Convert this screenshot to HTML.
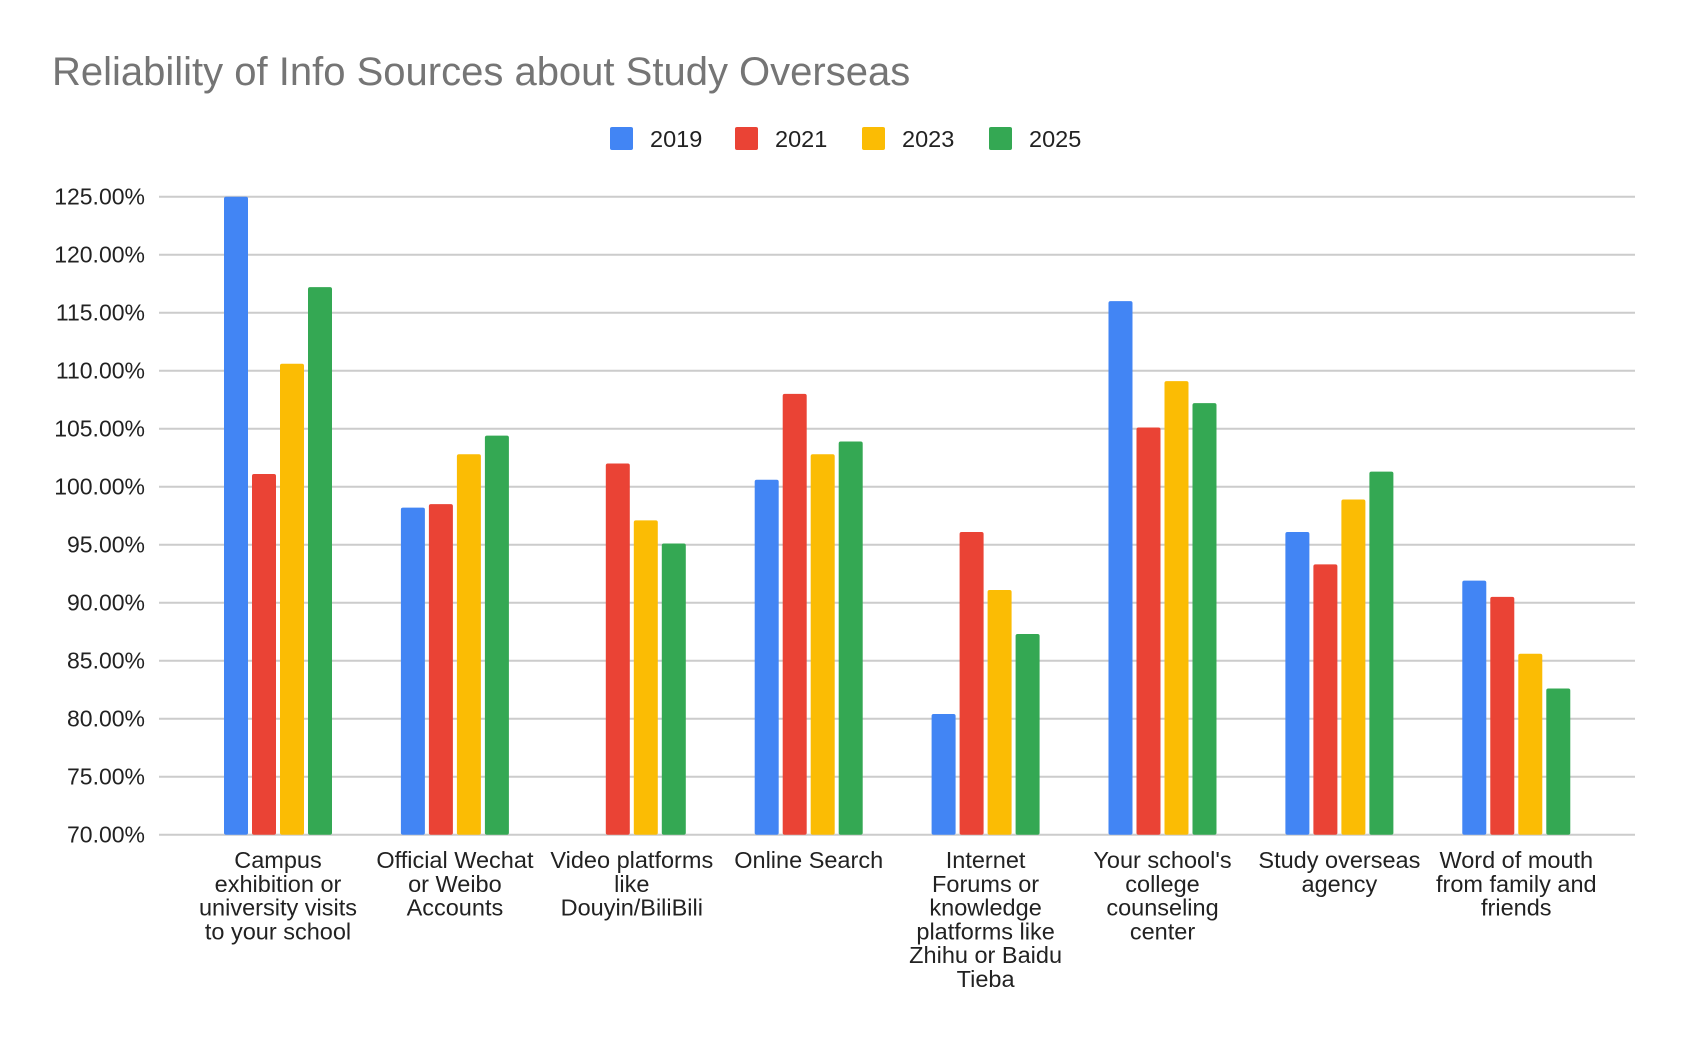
<!DOCTYPE html>
<html><head><meta charset="utf-8"><style>
body{margin:0;background:#fff;}
svg{display:block;font-family:"Liberation Sans",Arial,sans-serif;}
</style></head><body>
<svg id="chart" width="1688" height="1044" viewBox="0 0 1688 1044">
<text x="52" y="85" font-size="40" fill="#757575">Reliability of Info Sources about Study Overseas</text>
<g id="legend"></g>
<g id="grid"></g>
<g id="yticks"></g>
<g id="bars"></g>
<g id="xlabels"></g>
</svg>
<script>
const categories=[
["Campus","exhibition or","university visits","to your school"],
["Official Wechat","or Weibo","Accounts"],
["Video platforms","like","Douyin/BiliBili"],
["Online Search"],
["Internet","Forums or","knowledge","platforms like","Zhihu or Baidu","Tieba"],
["Your school's","college","counseling","center"],
["Study overseas","agency"],
["Word of mouth","from family and","friends"]];
const seriesNames=["2019","2021","2023","2025"];
const s2019=[125,98.2,null,100.6,80.4,116,96.1,91.9];
const s2021=[101.1,98.5,102,108,96.1,105.1,93.3,90.5];
const s2023=[110.6,102.8,97.1,102.8,91.1,109.1,98.9,85.6];
const s2025=[117.2,104.4,95.1,103.9,87.3,107.2,101.3,82.6];
const yTicks=[70,75,80,85,90,95,100,105,110,115,120,125];
const colors=["#4285f4","#ea4335","#fbbc04","#34a853"];
const NS="http://www.w3.org/2000/svg";
const X0=159,X1=1635,Y0=834.7,Y1=196.7,vmin=70,vmax=125;
const y=v=>Y0-(v-vmin)/(vmax-vmin)*(Y0-Y1);
const band=(X1-X0)/categories.length*0.9588;
const cx=i=>X0+119+i*band;
function mk(t,a,p){const e=document.createElementNS(NS,t);for(const k in a)e.setAttribute(k,a[k]);p.appendChild(e);return e;}
const grid=document.getElementById('grid'),yt=document.getElementById('yticks');
yTicks.forEach(v=>{
 const l=mk('line',{x1:X0,x2:X1,y1:y(v),y2:y(v),stroke:'#cccccc','stroke-width':2},grid);
 
 
 const t=mk('text',{x:145,y:y(v)+8,'font-size':23,'text-anchor':'end',fill:'#222'},yt);
 t.textContent=v.toFixed(2)+'%';
 
 
});
const series=[s2019,s2021,s2023,s2025];
const bars=document.getElementById('bars');
const bw=24,gap=4;
categories.forEach((c,i)=>{
 series.forEach((s,j)=>{
  const v=s[i];if(v==null)return;
  const x=cx(i)-54+j*(bw+gap);
  const r=mk('rect',{x:x,y:y(v),width:bw,height:Y0-y(v),fill:colors[j],rx:2},bars);
  
  
 });
 const g=mk('text',{'font-size':23.5,'text-anchor':'middle',fill:'#222'},document.getElementById('xlabels'));
 
 
 c.forEach((ln,k)=>{const ts=mk('tspan',{x:cx(i),y:868+k*23.8},g);ts.textContent=ln;});
});
const lg=document.getElementById('legend');
const lx=[610,735,862,989];
seriesNames.forEach((n,j)=>{
 const r=mk('rect',{x:lx[j],y:127,width:23,height:23,rx:2,fill:colors[j]},lg);
 
 
 const t=mk('text',{x:lx[j]+40,y:147,'font-size':23.5,fill:'#222'},lg);
 t.textContent=n;
 
 
});
</script>
</body></html>
